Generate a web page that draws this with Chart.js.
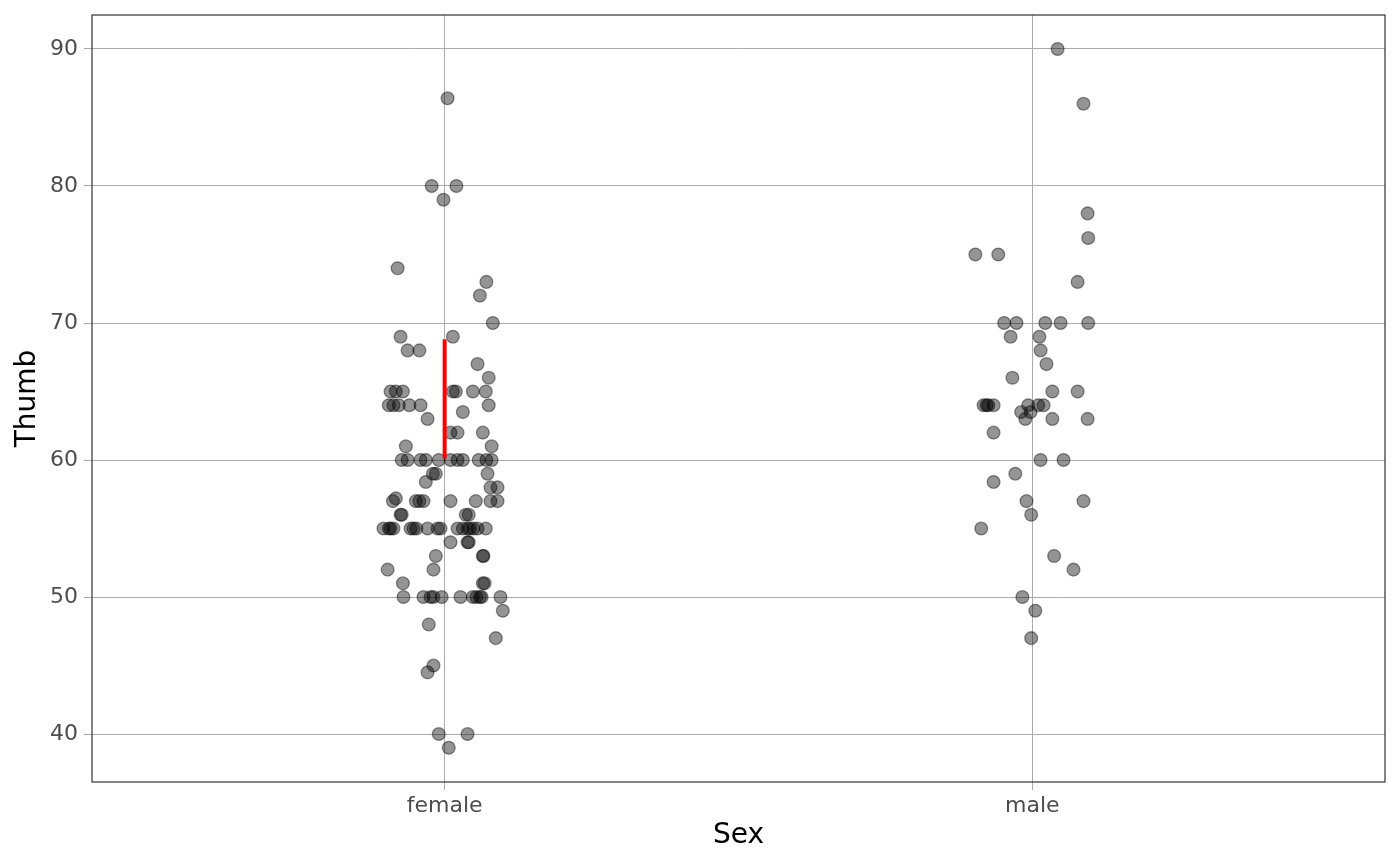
<!DOCTYPE html>
<html>
<head>
<meta charset="utf-8">
<script src="https://cdn.jsdelivr.net/npm/chart.js@4/dist/chart.umd.min.js"></script>
<style>
  html, body { margin: 0; padding: 0; background: #ffffff; }
  #wrap { width: 1400px; height: 866px; }
</style>
</head>
<body>
<div id="wrap"><canvas id="c" width="1400" height="866"></canvas></div>
<script>
// ---- data ----
const categories = ['female', 'male'];
const yTicks = [40, 50, 60, 70, 80, 90];

// horizontal jitter (in category units) and Thumb values, female
const femaleJitter = [
  0.005, -0.022, 0.020, -0.002, -0.080, 0.071, 0.060, 0.082, -0.075, 0.014,
  -0.063, -0.043, 0.056, 0.075, -0.092, -0.083, -0.071, 0.014, 0.019, 0.048,
  0.070, -0.095, -0.087, -0.078, -0.060, -0.041, 0.075, -0.029, 0.031, 0.010,
  0.022, 0.065, -0.066, 0.080, -0.073, -0.063, -0.041, -0.032, -0.010, 0.010,
  0.022, 0.031, 0.058, 0.071, 0.080, -0.020, -0.015, 0.073, -0.032, 0.078,
  0.090, -0.088, -0.083, -0.049, -0.043, -0.036, 0.010, 0.053, 0.078, 0.090,
  -0.075, -0.073, 0.036, 0.041, -0.104, -0.095, -0.092, -0.087, -0.058, -0.053,
  -0.048, -0.029, -0.012, -0.007, 0.022, 0.031, 0.039, 0.043, 0.049, 0.056,
  0.070, 0.010, 0.039, 0.041, -0.015, 0.065, 0.066, -0.019, -0.097, -0.071,
  0.065, 0.068, -0.070, -0.036, -0.024, -0.019, -0.005, 0.027, 0.048, 0.054,
  0.060, 0.063, 0.095, 0.099, -0.027, 0.087, -0.019, -0.029, -0.010, 0.039,
  0.007
];
const femaleThumb = [
  86.4, 80, 80, 79, 74, 73, 72, 70, 69, 69,
  68, 68, 67, 66, 65, 65, 65, 65, 65, 65,
  65, 64, 64, 64, 64, 64, 64, 63, 63.5, 62,
  62, 62, 61, 61, 60, 60, 60, 60, 60, 60,
  60, 60, 60, 60, 60, 59, 59, 59, 58.4, 58,
  58, 57, 57.2, 57, 57, 57, 57, 57, 57, 57,
  56, 56, 56, 56, 55, 55, 55, 55, 55, 55,
  55, 55, 55, 55, 55, 55, 55, 55, 55, 55,
  55, 54, 54, 54, 53, 53, 53, 52, 52, 51,
  51, 51, 50, 50, 50, 50, 50, 50, 50, 50,
  50, 50, 50, 49, 48, 47, 45, 44.5, 40, 40,
  39
];

// male
const maleJitter = [
  0.043, 0.087, 0.094, 0.095, -0.097, -0.058, 0.077, -0.048, -0.027, 0.022,
  0.048, 0.095, -0.037, 0.012, 0.014, 0.024, -0.034, 0.034, 0.077, -0.083,
  -0.078, -0.075, -0.066, -0.007, 0.010, 0.019, -0.019, -0.003, -0.012, 0.034,
  0.094, -0.066, 0.014, 0.053, -0.029, -0.066, -0.010, 0.087, -0.002, -0.087,
  0.037, 0.070, -0.017, 0.005, -0.002
];
const maleThumb = [
  90, 86, 78, 76.2, 75, 75, 73, 70, 70, 70,
  70, 70, 69, 69, 68, 67, 66, 65, 65, 64,
  64, 64, 64, 64, 64, 64, 63.5, 63.5, 63, 63,
  63, 62, 60, 60, 59, 58.4, 57, 57, 56, 55,
  53, 52, 50, 49, 47
];

// red segment drawn at the female category
const segmentCategory = 'female';
const segmentThumb = [60.12, 68.81];

// ---- build chart ----
const catPos = (name) => categories.indexOf(name) + 1;
const femalePts = femaleJitter.map((j, i) => ({ x: catPos('female') + j, y: femaleThumb[i] }));
const malePts = maleJitter.map((j, i) => ({ x: catPos('male') + j, y: maleThumb[i] }));
const segPts = segmentThumb.map(v => ({ x: catPos(segmentCategory), y: v }));

const FONT = "'DejaVu Sans', 'Liberation Sans', sans-serif";
const pointStyle = {
  type: 'scatter',
  backgroundColor: 'rgba(0,0,0,0.42)',
  borderColor: 'rgba(0,0,0,0.42)',
  borderWidth: 1.3,
  pointRadius: 6.4,
  pointHoverRadius: 6.4
};

const panelBorder = {
  id: 'panelBorder',
  afterDraw(chart) {
    const a = chart.chartArea;
    const ctx = chart.ctx;
    ctx.save();
    ctx.strokeStyle = '#333333';
    ctx.lineWidth = 1.2;
    ctx.strokeRect(a.left, a.top, a.right - a.left, a.bottom - a.top);
    ctx.restore();
  }
};

function zeroPad(s) {
  s.paddingTop = 0; s.paddingBottom = 0; s.paddingLeft = 0; s.paddingRight = 0;
}

new Chart(document.getElementById('c'), {
  data: {
    datasets: [
      {
        type: 'line',
        data: segPts,
        borderColor: '#ff0000',
        borderWidth: 4,
        pointRadius: 0,
        fill: false,
        borderCapStyle: 'butt'
      },
      Object.assign({ data: femalePts }, pointStyle),
      Object.assign({ data: malePts }, pointStyle)
    ]
  },
  options: {
    responsive: false,
    animation: false,
    devicePixelRatio: 1,
    layout: { padding: { top: 15, right: 15, left: 0, bottom: 0 } },
    plugins: {
      legend: { display: false },
      tooltip: { enabled: false }
    },
    scales: {
      x: {
        type: 'linear',
        min: 0.4,
        max: 2.6,
        afterBuildTicks: (s) => { s.ticks = categories.map((c, i) => ({ value: i + 1 })); },
        afterFit: (s) => { s.height = 84; zeroPad(s); },
        ticks: {
          callback: (v) => categories[Math.round(v) - 1] || '',
          color: '#4d4d4d',
          font: { family: FONT, size: 22 },
          padding: 3,
          maxRotation: 0,
          autoSkip: false
        },
        grid: { color: '#ababab', lineWidth: 1, tickLength: 8, drawTicks: true },
        border: { display: false },
        title: {
          display: true,
          text: 'Sex',
          color: '#000000',
          font: { family: FONT, size: 28 },
          padding: { top: 0, bottom: 13 }
        }
      },
      y: {
        type: 'linear',
        min: 36.5,
        max: 92.48,
        afterBuildTicks: (s) => { s.ticks = yTicks.map(v => ({ value: v })); },
        afterFit: (s) => { s.width = 92; zeroPad(s); },
        ticks: {
          callback: (v) => String(v),
          color: '#4d4d4d',
          font: { family: FONT, size: 22 },
          padding: 6
        },
        grid: { color: '#ababab', lineWidth: 1, tickLength: 8, drawTicks: true },
        border: { display: false },
        title: {
          display: true,
          text: 'Thumb',
          color: '#000000',
          font: { family: FONT, size: 28 },
          padding: { top: 11, bottom: 0 }
        }
      }
    }
  },
  plugins: [panelBorder]
});
</script>
</body>
</html>
